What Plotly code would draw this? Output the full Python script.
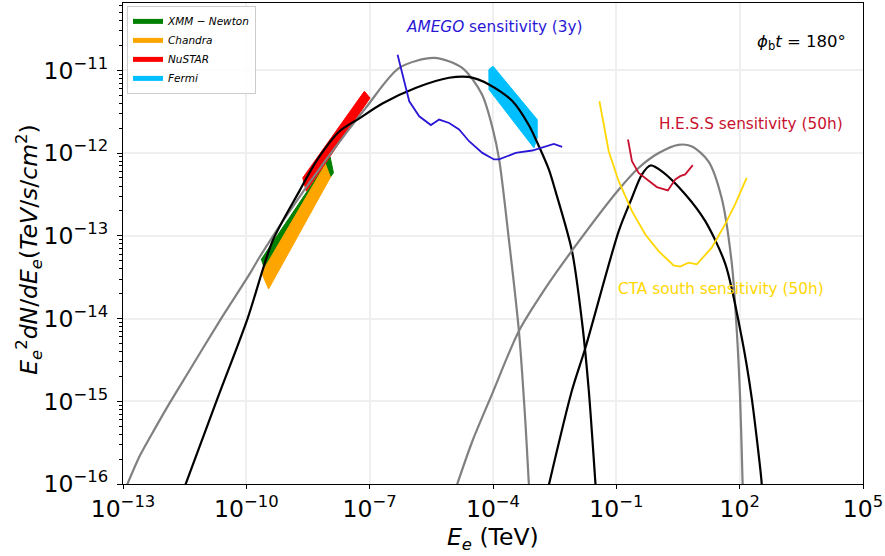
import numpy as np
import plotly.graph_objects as go

# ---------------- data (log10 E_e [TeV], log10 E^2 dN/dE [TeV/s/cm^2]) ----------------
sync_gray_lx = [-12.90, -12.588, -12.224, -11.860, -11.447, -10.647, -9.919, -9.676, -9.0, -8.06, -7.09,
                -6.28, -5.43, -4.75, -4.27, -4.01, -3.85, -3.61, -3.37, -3.21, -3.13, -3.11]
sync_gray_ly = [-16.01, -15.656, -15.331, -15.017, -14.679, -14.028, -13.461, -13.256, -12.74, -12.08, -11.45,
                -10.97, -10.85, -10.97, -11.29, -11.70, -12.08, -13.06, -14.15, -15.27, -15.98, -16.1]

sync_black_lx = [-11.49, -10.72, -9.97, -9.36, -8.71, -8.30, -7.74, -7.25, -6.69, -5.87, -5.07,
                 -4.60, -4.10, -3.53, -3.13, -2.88, -2.64, -2.48, -2.08, -1.83, -1.67, -1.51, -1.50]
sync_black_ly = [-16.02, -14.99, -14.00, -13.06, -12.46, -12.10, -11.74, -11.58, -11.40, -11.21, -11.09,
                 -11.08, -11.17, -11.37, -11.66, -11.92, -12.20, -12.46, -13.18, -14.06, -14.87, -15.98, -16.05]

ic_gray_lx = [-4.89, -4.50, -4.02, -3.37, -2.72, -2.08, -0.94, -0.46, 0.03, 0.51, 0.84, 1.24, 1.56,
              1.81, 1.93, 2.01, 2.07, 2.075]
ic_gray_ly = [-16.03, -15.48, -14.91, -14.15, -13.63, -13.18, -12.44, -12.18, -12.00, -11.90, -11.92, -12.10, -12.54,
              -13.34, -14.15, -14.95, -15.96, -16.05]

ic_black_lx = [-2.65, -2.08, -1.75, -0.94, -0.62, -0.38, -0.17, 0.11, 0.68, 1.16, 1.65, 2.05,
               2.29, 2.53, 2.54]
ic_black_ly = [-16.03, -14.87, -14.35, -12.94, -12.54, -12.26, -12.15, -12.22, -12.50, -12.82, -13.34, -14.23,
               -14.95, -15.96, -16.05]

# instrument spectra (bow-tie outlines)
xmm_lx = [-9.635, -7.961, -7.881, -9.555]
xmm_ly = [-13.283, -12.049, -12.239, -13.404]
chandra_lx = [-9.628, -8.075, -7.954, -9.458]
chandra_ly = [-13.449, -12.134, -12.291, -13.642]
nustar_lx = [-8.626, -7.129, -6.991, -8.543]
nustar_ly = [-12.299, -11.253, -11.334, -12.460]
fermi_lx = [-4.10, -4.00, -2.925, -2.925, -3.005, -4.097]
fermi_ly = [-10.99, -10.95, -11.595, -11.817, -11.937, -11.233]

# sensitivities
amego_lx = [-6.321, -6.207, -6.037, -5.795, -5.511, -5.31, -5.067, -4.825, -4.582, -4.259,
            -3.975, -3.854, -3.449, -3.046, -2.811, -2.52, -2.318]
amego_ly = [-10.811, -11.033, -11.374, -11.555, -11.661, -11.595, -11.636, -11.715, -11.857, -11.998,
            -12.077, -12.077, -11.998, -11.969, -11.937, -11.889, -11.925]
cta_lx = [-1.411, -1.185, -0.943, -0.62, -0.295, 0.028, 0.392, 0.554, 0.756, 0.957, 1.321, 1.646, 1.889, 2.17]
cta_ly = [-11.374, -11.978, -12.34, -12.702, -12.984, -13.185, -13.357, -13.373, -13.325, -13.344,
          -13.143, -12.861, -12.62, -12.299]
hess_lx = [-0.717, -0.62, -0.458, -0.215, -0.014, 0.253, 0.433, 0.554, 0.675, 0.86]
hess_ly = [-11.836, -12.098, -12.239, -12.339, -12.411, -12.451, -12.318, -12.279, -12.258, -12.146]

x_tick_exp = [-13, -10, -7, -4, -1, 2, 5]
y_tick_exp = [-16, -15, -14, -13, -12, -11]

legend_names = ["<i>XMM</i> − <i>Newton</i>", "<i>Chandra</i>", "<i>NuSTAR</i>", "<i>Fermi</i>"]


def p10(v):
    return np.power(10.0, np.array(v, dtype=float))


FONT = "DejaVu Sans"
BLUE = "#2a17d6"
GOLD = "#FFD700"
CRIMSON = "#C8102E"
fig = go.Figure()

# bow-ties
bow = [(xmm_lx, xmm_ly, "#008000"), (chandra_lx, chandra_ly, "#FFA500"),
       (nustar_lx, nustar_ly, "#FF0000"), (fermi_lx, fermi_ly, "#00BFFF")]
for lx, ly, col in bow:
    fig.add_trace(go.Scatter(x=p10(lx + lx[:1]), y=p10(ly + ly[:1]), mode="lines", fill="toself",
                             fillcolor=col, line=dict(color=col, width=1),
                             showlegend=False, hoverinfo="skip"))
for (lx, ly, col), name in zip(bow, legend_names):
    fig.add_trace(go.Scatter(x=[None], y=[None], mode="lines", name=name,
                             line=dict(color=col, width=5)))

# model curves (drawn over the bow-ties)
for lx, ly, col in [(sync_gray_lx, sync_gray_ly, "#808080"),
                    (sync_black_lx, sync_black_ly, "black"),
                    (ic_gray_lx, ic_gray_ly, "#808080"),
                    (ic_black_lx, ic_black_ly, "black")]:
    fig.add_trace(go.Scatter(x=p10(lx), y=p10(ly), mode="lines",
                             line=dict(color=col, width=2.2, shape="spline", smoothing=0.8),
                             showlegend=False, hoverinfo="skip"))

# sensitivities
for lx, ly, col in [(amego_lx, amego_ly, BLUE), (cta_lx, cta_ly, GOLD),
                    (hess_lx, hess_ly, CRIMSON)]:
    fig.add_trace(go.Scatter(x=p10(lx), y=p10(ly), mode="lines",
                             line=dict(color=col, width=1.8), showlegend=False, hoverinfo="skip"))

ann = [
    dict(x=-6.159, y=-10.481, text="<i>AMEGO</i> sensitivity (3y)", color=BLUE, xanchor="left", size=15.3),
    dict(x=-0.021, y=-11.651, text="H.E.S.S sensitivity (50h)", color=CRIMSON, xanchor="left", size=15.3),
    dict(x=-1.015, y=-13.642, text="CTA south sensitivity (50h)", color=GOLD, xanchor="left", size=15.3),
    dict(x=4.637, y=-10.662, text="<i>ϕ</i><sub>b</sub><i>t</i> = 180°", color="black", xanchor="right", size=16.5),
]
for a in ann:
    fig.add_annotation(x=a["x"], y=a["y"], xref="x", yref="y", text=a["text"], showarrow=False,
                       xanchor=a["xanchor"], yanchor="middle",
                       font=dict(family=FONT, size=a["size"], color=a["color"]))

# axis titles
fig.add_annotation(x=0.5, y=-0.113, xref="paper", yref="paper", showarrow=False,
                   text="<i>E</i><sub><i>e</i></sub> (TeV)", xanchor="center", yanchor="middle",
                   font=dict(family=FONT, size=23.5, color="black"))
fig.add_annotation(x=-0.127, y=0.487, xref="paper", yref="paper", showarrow=False, textangle=-90,
                   text="<i>E</i><sub><i>e</i></sub><sup>2</sup><i>dN</i>/<i>dE</i><sub><i>e</i></sub>(<i>TeV</i>/<i>s</i>/<i>cm</i><sup>2</sup>)",
                   xanchor="center", yanchor="middle",
                   font=dict(family=FONT, size=23.5, color="black"))

y_minor = [m * 10.0 ** e for e in range(-17, -9) for m in range(2, 10)]

fig.update_xaxes(type="log", range=[-13, 5],
                 tickvals=[10.0 ** e for e in x_tick_exp],
                 ticktext=[f"10<sup>{str(e).replace('-', '−')}</sup>" for e in x_tick_exp],
                 ticks="outside", ticklen=4, tickwidth=1, tickcolor="black",
                 ticklabeloverflow="allow",
                 showline=True, mirror=True, linecolor="black", linewidth=1.3,
                 showgrid=True, gridcolor="#efefef", gridwidth=1.5, zeroline=False,
                 tickfont=dict(family=FONT, size=23.5, color="black"))
fig.update_yaxes(type="log", range=[-16, -10.186],
                 tickvals=[10.0 ** e for e in y_tick_exp],
                 ticktext=[f"10<sup>{str(e).replace('-', '−')}</sup>" for e in y_tick_exp],
                 ticks="outside", ticklen=5, tickwidth=1, tickcolor="black",
                 ticklabelstandoff=4, ticklabeloverflow="allow",
                 minor=dict(tickvals=y_minor, ticks="outside", ticklen=2.5, tickwidth=0.8,
                            tickcolor="black", showgrid=False),
                 showline=True, mirror=True, linecolor="black", linewidth=1.3,
                 showgrid=True, gridcolor="#efefef", gridwidth=1.5, zeroline=False,
                 tickfont=dict(family=FONT, size=23.5, color="black"))

fig.update_layout(width=885, height=556, margin=dict(l=123, r=20, t=2, b=72),
                  plot_bgcolor="white", paper_bgcolor="white",
                  font=dict(family=FONT),
                  legend=dict(x=0.0054, y=0.994, xanchor="left", yanchor="top",
                              bgcolor="rgba(255,255,255,0.85)", bordercolor="#cccccc", borderwidth=1,
                              font=dict(family=FONT, size=10.5, color="black"), tracegroupgap=0))

fig.write_html("out.html", config={"displayModeBar": False},
               post_script="document.body.style.margin='0px';")
